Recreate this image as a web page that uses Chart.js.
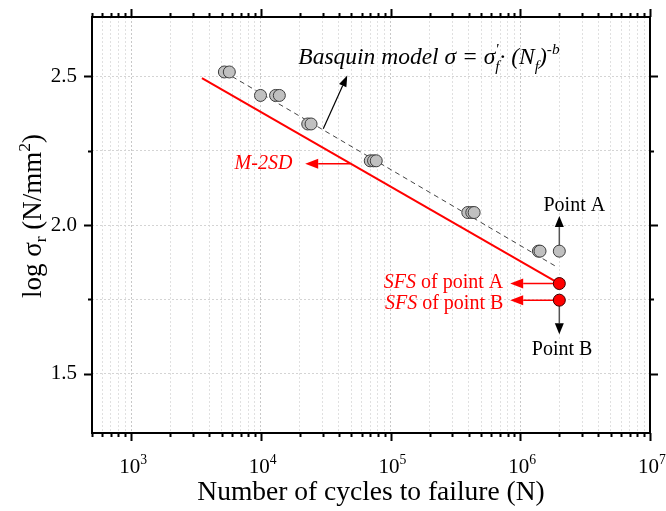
<!DOCTYPE html>
<html>
<head>
<meta charset="utf-8">
<script src="https://cdn.jsdelivr.net/npm/chart.js@4.4.0/dist/chart.umd.min.js"></script>
<style>
  html, body { margin: 0; padding: 0; background: #fff; }
  #wrap { width: 666px; height: 511px; }
</style>
</head>
<body>
<div id="wrap"><canvas id="snChart" width="666" height="511"></canvas></div>
<script>
// fatigue test results (cycles to failure, log of stress range)
const testCycles = [5240, 5720, 9950, 13000, 13900, 23000, 24400, 69800, 74000, 77600, 394000, 423000, 441000, 1380000, 1420000];
const testLogStress = [2.515, 2.515, 2.436, 2.436, 2.436, 2.340, 2.340, 2.216, 2.216, 2.216, 2.042, 2.042, 2.042, 1.912, 1.912];

// run-out point A
const pointACycles = [2000000];
const pointALogStress = [1.912];

// safe fatigue strength of points A and B
const sfsCycles = [2000000, 2000000];
const sfsLogStress = [1.803, 1.747];

// Basquin mean curve and mean - 2 standard deviations
const basquinCycles = [5240, 1860000];
const basquinLogStress = [2.515, 1.862];
const m2sdCycles = [3520, 2000000];
const m2sdLogStress = [2.494, 1.803];

// axes
const xDecades = [3, 4, 5, 6, 7];
const yTickValues = [1.5, 1.75, 2.0, 2.25, 2.5];
const yLabelValues = [1.5, 2.0, 2.5];

const FONT = '"Liberation Serif", "Times New Roman", serif';
const RED = '#ff0000';

const toPoints = (xs, ys) => xs.map((x, i) => ({ x: x, y: ys[i] }));

// annotation arrows and labels, placed in data units
const arrows = [
    { from: [30300, 2.324], to: [46400, 2.503], color: '#000', head: '#000', lw: 1.2, len: 11, w: 8 },
    { from: [48900, 2.206], to: [22000, 2.206], color: RED, head: RED, lw: 1.5, len: 13, w: 10 },
    { from: [2000000, 1.912], to: [2000000, 2.030], color: '#555', head: '#000', lw: 1.5, len: 11, w: 9 },
    { from: [2000000, 1.747], to: [2000000, 1.632], color: '#555', head: '#000', lw: 1.5, len: 11, w: 9 },
    { from: [2000000, 1.803], to: [836000, 1.803], color: RED, head: RED, lw: 1.5, len: 13, w: 10 },
    { from: [2000000, 1.747], to: [836000, 1.747], color: RED, head: RED, lw: 1.5, len: 13, w: 10 }
];

const notes = [
    { at: [19450, 2.541], align: 'left', color: '#000', size: 23.5, parts: [
        { t: 'Basquin model σ = σ', it: true },
        { t: 'f', it: true, sub: true, hold: true },
        { t: '\'', it: true, sup: true },
        { t: '· (N', it: true },
        { t: 'f', it: true, sub: true },
        { t: ')', it: true },
        { t: '-b', it: true, sup: true }
    ] },
    { at: [17500, 2.189], align: 'right', color: RED, size: 20, parts: [{ t: 'M-2SD', it: true }] },
    { at: [2610000, 2.047], align: 'center', color: '#000', size: 20, parts: [{ t: 'Point A' }] },
    { at: [740000, 1.789], align: 'right', color: RED, size: 20, parts: [{ t: 'SFS', it: true }, { t: ' of point A' }] },
    { at: [740000, 1.717], align: 'right', color: RED, size: 20, parts: [{ t: 'SFS', it: true }, { t: ' of point B' }] },
    { at: [2100000, 1.564], align: 'center', color: '#000', size: 20, parts: [{ t: 'Point B' }] }
];

function partFont(p, size) {
    const s = (p.sub || p.sup) ? size * 0.65 : size;
    return (p.it ? 'italic ' : '') + s.toFixed(1) + 'px ' + FONT;
}

// text with sub/superscripts, baseline at y
function drawRich(ctx, parts, x, y, size, align, color, subShift) {
    const sub = subShift === undefined ? 0.28 : subShift;
    let total = 0, hold = 0;
    parts.forEach(p => {
        ctx.font = partFont(p, size);
        const w = ctx.measureText(p.t).width;
        if (p.hold) { hold = w; } else { total += Math.max(w, hold); hold = 0; }
    });
    let cx = align === 'center' ? x - total / 2 : (align === 'right' ? x - total : x);
    ctx.textAlign = 'left';
    ctx.textBaseline = 'alphabetic';
    hold = 0;
    parts.forEach(p => {
        ctx.font = partFont(p, size);
        ctx.fillStyle = p.color || color;
        const dy = p.sub ? size * sub : (p.sup ? -size * 0.42 : 0);
        ctx.fillText(p.t, cx, y + dy);
        const w = ctx.measureText(p.t).width;
        if (p.hold) { hold = w; } else { cx += Math.max(w, hold); hold = 0; }
    });
}

function drawArrow(ctx, x1, y1, x2, y2, a) {
    const ang = Math.atan2(y2 - y1, x2 - x1);
    const bx = x2 - a.len * Math.cos(ang), by = y2 - a.len * Math.sin(ang);
    ctx.strokeStyle = a.color;
    ctx.lineWidth = a.lw;
    ctx.beginPath();
    ctx.moveTo(x1, y1);
    ctx.lineTo(bx, by);
    ctx.stroke();
    ctx.fillStyle = a.head;
    ctx.beginPath();
    ctx.moveTo(x2, y2);
    ctx.lineTo(bx + a.w / 2 * Math.sin(ang), by - a.w / 2 * Math.cos(ang));
    ctx.lineTo(bx - a.w / 2 * Math.sin(ang), by + a.w / 2 * Math.cos(ang));
    ctx.closePath();
    ctx.fill();
}

const isDecade = v => Math.abs(Math.log10(v) - Math.round(Math.log10(v))) < 1e-9;

const decorPlugin = {
    id: 'decor',
    beforeDatasetsDraw(chart) {
        const ctx = chart.ctx, xs = chart.scales.x, ys = chart.scales.y;
        ctx.save();
        arrows.forEach(a => {
            drawArrow(ctx,
                xs.getPixelForValue(a.from[0]), ys.getPixelForValue(a.from[1]),
                xs.getPixelForValue(a.to[0]), ys.getPixelForValue(a.to[1]), a);
        });
        ctx.restore();
    },
    afterDraw(chart) {
        const ctx = chart.ctx, xs = chart.scales.x, ys = chart.scales.y;
        const { left, right, top, bottom } = chart.chartArea;
        ctx.save();

        // frame
        ctx.strokeStyle = '#000';
        ctx.lineWidth = 2;
        ctx.strokeRect(left, top, right - left, bottom - top);

        // tick marks on all four sides, outward
        ctx.lineWidth = 2;
        ctx.beginPath();
        xs.ticks.forEach(t => {
            const px = Math.round(xs.getPixelForValue(t.value)) + 0.5;
            const len = isDecade(t.value) ? 8 : 4;
            ctx.moveTo(px, bottom); ctx.lineTo(px, bottom + len);
            ctx.moveTo(px, top); ctx.lineTo(px, top - len);
        });
        ys.ticks.forEach(t => {
            const py = Math.round(ys.getPixelForValue(t.value)) + 0.5;
            const len = yLabelValues.some(v => Math.abs(v - t.value) < 1e-9) ? 8 : 4;
            ctx.moveTo(left, py); ctx.lineTo(left - len, py);
            ctx.moveTo(right, py); ctx.lineTo(right + len, py);
        });
        ctx.stroke();

        // x tick labels 10^n
        xDecades.forEach(d => {
            const px = xs.getPixelForValue(Math.pow(10, d));
            drawRich(ctx, [{ t: '10' }, { t: String(d), sup: true }], px + 2, bottom + 40, 21, 'center', '#000');
        });

        // axis titles
        drawRich(ctx, [{ t: 'Number of cycles to failure (N)' }], (left + right) / 2, bottom + 67, 27.5, 'center', '#000');
        ctx.save();
        ctx.translate(41, (top + bottom) / 2 - 9);
        ctx.rotate(-Math.PI / 2);
        drawRich(ctx, [{ t: 'log σ' }, { t: 'r', sub: true }, { t: ' (N/mm' }, { t: '2', sup: true }, { t: ')' }], 0, 0, 27, 'center', '#000', 0.17);
        ctx.restore();

        // annotation labels
        notes.forEach(n => {
            drawRich(ctx, n.parts, xs.getPixelForValue(n.at[0]), ys.getPixelForValue(n.at[1]), n.size, n.align, n.color);
        });
        ctx.restore();
    }
};

const grayPoint = {
    showLine: false,
    pointRadius: 6,
    pointHoverRadius: 6,
    backgroundColor: '#c0c0c0',
    borderColor: '#3c3c3c',
    borderWidth: 1
};

new Chart(document.getElementById('snChart'), {
    type: 'scatter',
    data: {
        datasets: [
            Object.assign({ label: 'Test data', data: toPoints(testCycles, testLogStress), order: 2 }, grayPoint),
            Object.assign({ label: 'Point A', data: toPoints(pointACycles, pointALogStress), order: 2 }, grayPoint),
            {
                label: 'SFS',
                data: toPoints(sfsCycles, sfsLogStress),
                showLine: false,
                pointRadius: 6,
                backgroundColor: RED,
                borderColor: '#3a0000',
                borderWidth: 1,
                order: 0
            },
            {
                label: 'Basquin model',
                data: toPoints(basquinCycles, basquinLogStress),
                showLine: true,
                borderColor: '#444',
                borderWidth: 1,
                borderDash: [5, 4],
                pointRadius: 0,
                order: 4
            },
            {
                label: 'M-2SD',
                data: toPoints(m2sdCycles, m2sdLogStress),
                showLine: true,
                borderColor: RED,
                borderWidth: 2,
                pointRadius: 0,
                order: 3
            }
        ]
    },
    options: {
        responsive: false,
        animation: false,
        layout: { padding: { left: 0, right: 16, top: 17, bottom: 0 } },
        plugins: {
            legend: { display: false },
            tooltip: { enabled: false }
        },
        scales: {
            x: {
                type: 'logarithmic',
                min: 500,
                max: 10000000,
                afterBuildTicks: scale => {
                    const ticks = [];
                    for (let e = 2; e <= 6; e++) {
                        for (let s = 1; s <= 9; s++) {
                            const v = s * Math.pow(10, e);
                            if (v >= 500) ticks.push({ value: v });
                        }
                    }
                    ticks.push({ value: 10000000 });
                    scale.ticks = ticks;
                },
                afterFit: scale => {
                    scale.height = 78;
                    scale.paddingLeft = 0;
                    scale.paddingRight = 0;
                },
                ticks: { display: false },
                grid: {
                    drawTicks: false,
                    color: c => (c.tick && isDecade(c.tick.value)) ? '#c8c8c8' : '#e0e0e0',
                    lineWidth: 1
                },
                border: { display: false, dash: [2, 2] }
            },
            y: {
                min: 1.3,
                max: 2.7,
                afterBuildTicks: scale => {
                    scale.ticks = yTickValues.map(v => ({ value: v }));
                },
                afterFit: scale => {
                    scale.width = 92;
                    scale.paddingTop = 0;
                    scale.paddingBottom = 0;
                },
                ticks: {
                    padding: 15,
                    color: '#000',
                    font: { family: FONT, size: 21 },
                    callback: v => yLabelValues.some(l => Math.abs(l - v) < 1e-9) ? v.toFixed(1) : ''
                },
                grid: {
                    drawTicks: false,
                    color: '#d4d4d4',
                    lineWidth: 1
                },
                border: { display: false, dash: [2, 2] }
            }
        }
    },
    plugins: [decorPlugin]
});
</script>
</body>
</html>
